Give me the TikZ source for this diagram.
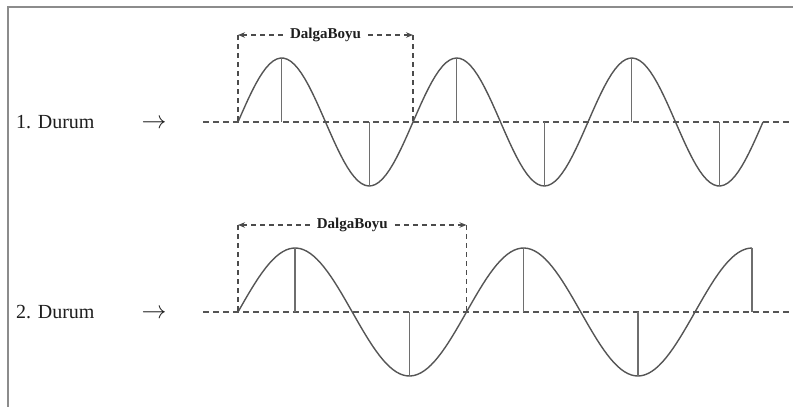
\documentclass[tikz,border=0pt]{standalone}
\usepackage{fontspec}
\setmainfont{Liberation Serif}
\usetikzlibrary{arrows.meta,calc}
\definecolor{ink}{RGB}{30,30,30}
\definecolor{wavegray}{RGB}{85,85,85}
\definecolor{rule}{RGB}{140,140,140}
\tikzset{
  frame/.style={draw=rule,line width=1.6pt},
  case/.style={anchor=west,font=\fontsize{20}{24}\selectfont,text=ink,inner sep=0pt},
  arr/.style={font=\fontsize{23}{26}\selectfont,text=ink,inner sep=0pt,yshift=-2pt},
  axis/.style={draw=wavegray,dash pattern=on 6pt off 4pt,line width=1.2pt},
  wave/.style={draw=wavegray,line width=1.4pt},
  crest/.style={draw=wavegray!85,line width=1.4pt},
  span/.style={draw=ink!80,dash pattern=on 5pt off 4pt,line width=1.1pt},
  spantip/.style={span,-{Stealth[length=7pt,width=5.5pt]}},
  lam/.style={font=\fontsize{15}{18}\selectfont\bfseries,text=ink,inner sep=7pt},
}
\begin{document}
\begin{tikzpicture}[x=1pt,y=-1pt]
  \useasboundingbox (0,0) rectangle (793,407);
  \draw[frame] (8,407) -- (8,7) -- (793,7);
  % one row per case: number / baseline / wavelength / length / last crest
  \foreach \n/\y/\per/\len/\m in {1/122/175/525/11, 2/312/228.5/514/9} {
    \node[case] (d\n) at (16,\y) {\n. Durum};
    \node[arr] (a\n) at (154,\y) {$\rightarrow$};
    \coordinate (b\n) at (203,\y);
    \coordinate (r\n) at (793,\y);
    \coordinate (s\n) at (238,\y);
    \coordinate (w\n) at (238+\per,\y);
    \draw[axis] (b\n) -- (r\n);
    \draw[wave] plot[domain=0:\len,samples=150] ({238+\x},{\y-64*sin(360/\per*\x)});
    \foreach \j in {1,3,...,\m}
      \draw[crest] ({238+\j*\per/4},\y) -- ++(0,{-64*sin(90*\j)});
    \node[lam] (l\n) at ($(s\n)!0.5!(w\n)+(0,-87)$) {DalgaBoyu};
    \draw[spantip] (l\n.west) -- (s\n |- l\n);
    \draw[spantip] (l\n.east) -- (w\n |- l\n);
    \draw[span] (s\n |- l\n) -- (s\n);
    \draw[span] (w\n |- l\n) -- (w\n);
  }
\end{tikzpicture}
\end{document}
